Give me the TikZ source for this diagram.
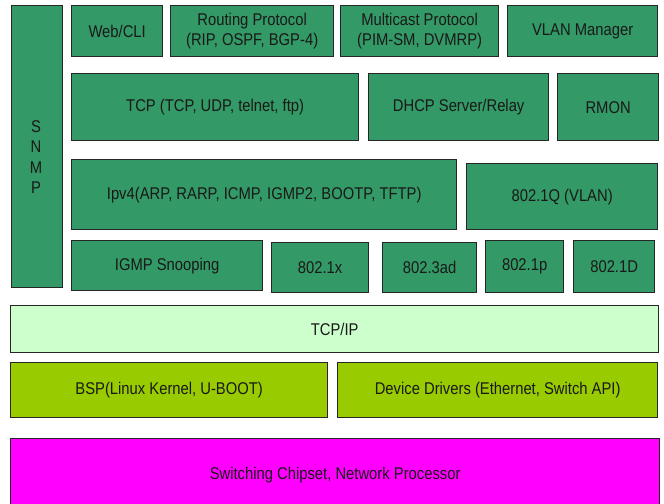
\documentclass[tikz,border=0pt]{standalone}
\usepackage{fontspec}
\setmainfont{Liberation Sans}[FakeStretch=0.87]
\definecolor{sgreen}{RGB}{51,153,102}
\definecolor{lgreen}{RGB}{204,255,204}
\definecolor{ygreen}{RGB}{153,204,0}
\definecolor{mag}{RGB}{255,0,255}
\begin{document}
\begin{tikzpicture}[x=1bp,y=-1bp,
  blk/.style={draw=black!85, line width=1.3bp, anchor=north west, inner sep=0pt,
    align=center, font=\fontsize{17bp}{20bp}\selectfont, text=black!90},
  gbox/.style={blk, fill=sgreen},
  lbox/.style={blk, fill=lgreen},
  ybox/.style={blk, fill=ygreen},
  mbox/.style={blk, fill=mag},
  sz/.style 2 args={minimum width=#1bp, minimum height=#2bp}]
\useasboundingbox (0,0) rectangle (664,504);
% SNMP column
\node[gbox, sz={51}{282}] (snmp) at (11,5) {};
\node[font=\fontsize{17bp}{20.5bp}\selectfont, align=center, text=black!90] (snmpt) at (36,157) {S\\N\\M\\P};
% row 1
\node[gbox, sz={91}{51}] (web) at (71,5) {Web/CLI};
\node[gbox, sz={163}{51}] (rout) at (170,5) {Routing Protocol\\(RIP, OSPF, BGP-4)};
\node[gbox, sz={158}{51}] (mcast) at (340,5) {Multicast Protocol\\(PIM-SM, DVMRP)};
\node[gbox, sz={150}{51}] (vlanm) at (507,5) {VLAN Manager};
% row 2
\node[gbox, sz={287}{67}] (tcp) at (71,73) {TCP (TCP, UDP, telnet, ftp)};
\node[gbox, sz={180}{67}] (dhcp) at (368,73) {DHCP Server/Relay};
\node[gbox, sz={101}{67}] (rmon) at (557,73) {RMON};
% row 3
\node[gbox, sz={385}{70}] (ipv4) at (71,159) {Ipv4(ARP, RARP, ICMP, IGMP2, BOOTP, TFTP)};
\node[gbox, sz={191}{66}] (q) at (466,163) {802.1Q (VLAN)};
% row 4
\node[gbox, sz={191}{50}] (igmp) at (71,240) {IGMP Snooping};
\node[gbox, sz={97}{50}] (x) at (271,242) {802.1x};
\node[gbox, sz={94}{50}] (ad) at (382,242) {802.3ad};
\node[gbox, sz={78}{52}] (p) at (485,240) {802.1p};
\node[gbox, sz={81}{52}] (d) at (573,240) {802.1D};
% lower layers
\node[lbox, sz={648}{47}] (tcpip) at (10,305) {TCP/IP};
\node[ybox, sz={317}{55}] (bsp) at (10,362) {BSP(Linux Kernel, U-BOOT)};
\node[ybox, sz={320}{55}] (drv) at (337,362) {Device Drivers (Ethernet, Switch API)};
\node[mbox, sz={649}{72}] (chip) at (10,438) {\raisebox{2bp}{Switching Chipset, Network Processor}};
\end{tikzpicture}
\end{document}
